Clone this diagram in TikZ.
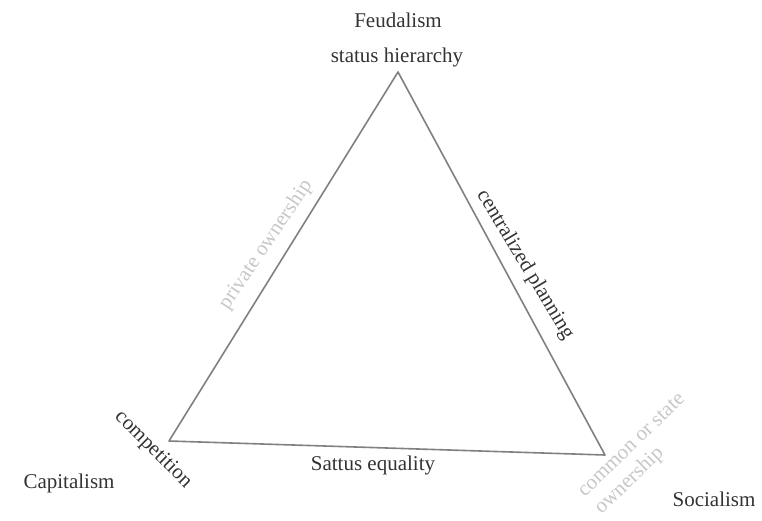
\documentclass[tikz,border=0pt]{standalone}
\usepackage{fontspec}
\setmainfont{Liberation Serif}
\begin{document}
\begin{tikzpicture}[x=1pt,y=-1pt,
  lbl/.style={font=\fontsize{21}{24}\selectfont, text=black!80, inner sep=0pt},
  faint/.style={lbl, text=black!22},
  edge/.style={draw=black!50, line width=1.6pt, line join=round}]
\useasboundingbox (0,0) rectangle (762,520);
\coordinate (A) at (398,72);
\coordinate (B) at (169,441);
\coordinate (C) at (605,455);
\draw[edge] (A) -- (B) -- (C) -- cycle;
\node[lbl] (feud) at (398,20) {Feudalism};
\node[lbl] (sh) at (397,57) {status hierarchy};
\node[faint, rotate=56] (po) at (266,245) {private ownership};
\node[lbl, rotate=-59] (cp) at (525,265) {centralized planning};
\node[lbl, rotate=-45] (comp) at (153,450) {competition};
\node[lbl] (cap) at (69,483) {Capitalism};
\node[lbl] (se) at (373,465) {Sattus equality};
\node[faint, rotate=44, align=left] (cs) at (641,455) {common or state\\ownership};
\node[lbl] (soc) at (714,499) {Socialism};
\end{tikzpicture}
\end{document}
